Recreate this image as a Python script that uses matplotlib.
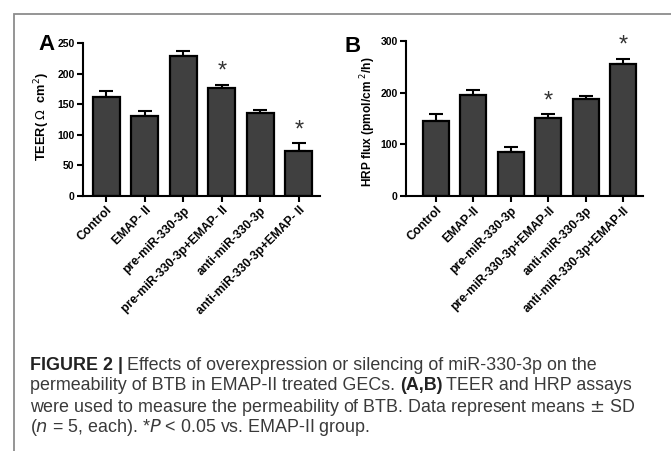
import numpy as np
import matplotlib
matplotlib.use("Agg")
import matplotlib.pyplot as plt
from matplotlib.patches import Rectangle

plt.rcParams['font.family'] = ['Liberation Sans', 'DejaVu Sans']

# Panel A: TEER
labels_a = ["Control", "EMAP- II", "pre-miR-330-3p", "pre-miR-330-3p+EMAP- II",
            "anti-miR-330-3p", "anti-miR-330-3p+EMAP- II"]
teer_mean = [162, 130, 229, 176, 135, 74]
teer_sd = [9, 9, 8, 6, 6, 12]
teer_sig = [False, False, False, True, False, True]

# Panel B: HRP flux
labels_b = ["Control", "EMAP-II", "pre-miR-330-3p", "pre-miR-330-3p+EMAP-II",
            "anti-miR-330-3p", "anti-miR-330-3p+EMAP-II"]
hrp_mean = [145, 195, 85, 150, 187, 255]
hrp_sd = [14, 10, 10, 8, 6, 10]
hrp_sig = [False, False, False, True, False, True]

W, H = 671, 451
fig = plt.figure(figsize=(W / 100, H / 100), dpi=100)

# frame around the figure (cut at the right/bottom in the original)
fig.patches.append(Rectangle((14 / W, -0.1), 1.1, 1 - 14 / H + 0.1, transform=fig.transFigure,
                             fill=False, edgecolor='#8c8c8c', linewidth=1.3))


def draw_panel(ax, labels, mean, sd, sig, ylim, yticks, ylabel, xlim, label_size):
    x = np.arange(len(labels))
    ax.bar(x, mean, width=0.7, color='#404040', edgecolor='black', linewidth=1.6, zorder=2)
    ax.errorbar(x, mean, yerr=[np.zeros(len(sd)), sd], fmt='none', ecolor='black',
                elinewidth=1.5, capsize=5, capthick=1.5, zorder=1)
    for xi, m, s, flag in zip(x, mean, sd, sig):
        if flag:
            ax.text(xi, m + s + ylim[1] * 0.015, '*', ha='center', va='bottom',
                    fontsize=17, color='#333333')
    ax.set_ylim(*ylim)
    ax.set_xlim(*xlim)
    ax.set_yticks(yticks)
    ax.set_xticks(x)
    ax.set_xticklabels(labels, rotation=45, ha='right', rotation_mode='anchor',
                       fontsize=8.7, fontweight='bold')
    for t in ax.get_yticklabels():
        t.set_fontweight('bold')
        t.set_fontsize(7.5)
    ax.set_ylabel(ylabel, fontsize=label_size, fontweight='bold')
    ax.spines['top'].set_visible(False)
    ax.spines['right'].set_visible(False)
    ax.spines['left'].set_linewidth(1.5)
    ax.spines['bottom'].set_linewidth(1.5)
    ax.tick_params(width=1.5, length=4, pad=2)


ax1 = fig.add_axes([83 / W, 1 - 196 / H, (320 - 83) / W, (196 - 43) / H])
draw_panel(ax1, labels_a, teer_mean, teer_sd, teer_sig, (0, 250), [0, 50, 100, 150, 200, 250],
           r'TEER( $\Omega$  cm$^{2}$)', (-0.6, 5.55), 9.2)
ax1.yaxis.set_label_coords(-0.131, 0.52)
ax1.text(-0.155, 0.99, 'A', transform=ax1.transAxes, fontsize=16, fontweight='bold',
         ha='center', va='center')

ax2 = fig.add_axes([406 / W, 1 - 196 / H, (643 - 406) / W, (196 - 41) / H])
draw_panel(ax2, labels_b, hrp_mean, hrp_sd, hrp_sig, (0, 300), [0, 100, 200, 300],
           r'HRP flux (pmol/cm $^{2}$/h)', (-0.8, 5.53), 8.6)
ax2.yaxis.set_label_coords(-0.12, 0.48)
ax2.text(-0.225, 0.965, 'B', transform=ax2.transAxes, fontsize=16, fontweight='bold',
         ha='center', va='center')

# caption
cap_color = '#3a3a3a'
fs = 12.9
y0 = 1 - 365 / H
dy = 21 / H
t = fig.text(30 / W, y0, 'FIGURE 2 |', fontsize=fs, fontweight='bold', color='#222222', va='center')
fig.canvas.draw()
bb = t.get_window_extent()
fig.text(bb.x1 / W + 4 / W, y0, 'Effects of overexpression or silencing of miR-330-3p on the',
         fontsize=fs, color=cap_color, va='center')
t2 = fig.text(30 / W, y0 - dy, 'permeability of BTB in EMAP-II treated GECs. ', fontsize=fs,
              color=cap_color, va='center')
fig.canvas.draw()
bb2 = t2.get_window_extent()
t3 = fig.text(bb2.x1 / W, y0 - dy, '(A,B)', fontsize=fs, fontweight='bold', color='#222222', va='center')
fig.canvas.draw()
bb3 = t3.get_window_extent()
fig.text(bb3.x1 / W + 4 / W, y0 - dy, 'TEER and HRP assays', fontsize=fs, color=cap_color, va='center')
fig.text(30 / W, y0 - 2 * dy, 'were used to measure the permeability of BTB. Data represent means $\\pm$ SD',
         fontsize=fs, color=cap_color, va='center')
fig.text(30 / W, y0 - 3 * dy, '($n$ = 5, each). *$P$ < 0.05 vs. EMAP-II group.',
         fontsize=fs, color=cap_color, va='center')

fig.savefig('out.png', dpi=100)
